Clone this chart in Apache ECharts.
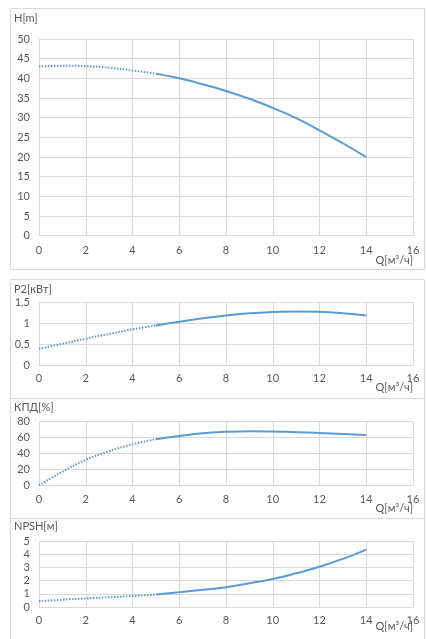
<!DOCTYPE html>
<html><head><meta charset="utf-8">
<script src="https://cdn.jsdelivr.net/npm/echarts@6/dist/echarts.min.js"></script>
<style>html,body{margin:0;padding:0;background:#fff}#c{width:426px;height:639px}</style>
</head><body><div id="c"></div>
<script>
const q = [0,1,2,3,4,5,6,7,8,9,10,11,12,13,14];
const head = [43,43.2,43.1,42.7,42,41.2,40,38.5,36.8,34.8,32.5,29.9,26.8,23.5,20];
const power = [0.4,0.52,0.64,0.75,0.86,0.95,1.04,1.12,1.19,1.24,1.27,1.285,1.275,1.24,1.19];
const eff = [0,17,32,43,51.5,58,62,65.5,67.3,68,67.8,66.8,65.7,64.5,63.2];
const npsh = [0.45,0.55,0.65,0.74,0.83,0.95,1.12,1.3,1.5,1.8,2.12,2.55,3.05,3.65,4.35];
const titles = ['H[m]','P2[кВт]','КПД[%]','NPSH[м]'];
const xName = 'Q[м³/ч]';
const yMax = [50,1.5,80,5];
const yInt = [5,0.5,20,1];
const splitQ = 5;

const font = 'Lato';
const txt = '#595959';
const gridC = '#d9d9d9';
const blue = '#5b9bd5';

const grids = [
  {left:39, top:39, width:374, height:196.7},
  {left:39, top:302.3, width:374, height:63.4},
  {left:39, top:421.7, width:374, height:63.6},
  {left:39, top:541, width:374, height:66}
];
const xMargins = [9,7,9,8];
const qLabelY = [262,389,510,628];
const titleY = [20,290.7,409,528];
const panels = [[8,261],[279,119],[398,120],[518,125]];
const datasets = [head,power,eff,npsh];

const xAxis = grids.map((g,i)=>({
  gridIndex:i, type:'value', min:0, max:16, interval:2,
  axisLine:{show:true,lineStyle:{color:gridC}}, axisTick:{show:false},
  splitLine:{show:true,lineStyle:{color:gridC,width:1}},
  axisLabel:{color:txt,fontFamily:font,fontSize:11,margin:xMargins[i]}
}));
const yAxis = grids.map((g,i)=>({
  gridIndex:i, type:'value', min:0, max:yMax[i], interval:yInt[i],
  axisLine:{show:false}, axisTick:{show:false},
  splitLine:{show:true,lineStyle:{color:gridC,width:1}},
  axisLabel:{color:txt,fontFamily:font,fontSize:11,margin:9,
    formatter:v=>String(v).replace('.',',')}
}));
const series = [];
datasets.forEach((d,i)=>{
  const pts = q.map((x,k)=>[x,d[k]]);
  series.push({type:'line',xAxisIndex:i,yAxisIndex:i,smooth:true,symbol:'none',
    data:pts.filter(p=>p[0]<=splitQ),
    lineStyle:{color:blue,width:2,type:[1.5,1.5]}});
  series.push({type:'line',xAxisIndex:i,yAxisIndex:i,smooth:true,symbol:'none',
    data:pts.filter(p=>p[0]>=splitQ),
    lineStyle:{color:blue,width:2}});
});
const graphic = [];
panels.forEach((p,i)=>{
  graphic.push({type:'rect',left:10,top:p[0],z:-10,
    shape:{x:0,y:0,width:414,height:p[1]},
    style:{fill:'#fff',stroke:gridC,lineWidth:1}});
  graphic.push({type:'text',left:14,top:titleY[i]-7,
    style:{text:titles[i],fill:txt,font:'11px "'+font+'"'}});
  graphic.push({type:'text',right:426-413,top:qLabelY[i]-7,
    style:{text:xName,fill:txt,font:'11px "'+font+'"'}});
});

const chart = echarts.init(document.getElementById('c'));
chart.setOption({
  backgroundColor:'#fff',
  animation:false,
  grid:grids.map(g=>Object.assign({containLabel:false},g)),
  xAxis, yAxis, series, graphic
});
</script></body></html>
